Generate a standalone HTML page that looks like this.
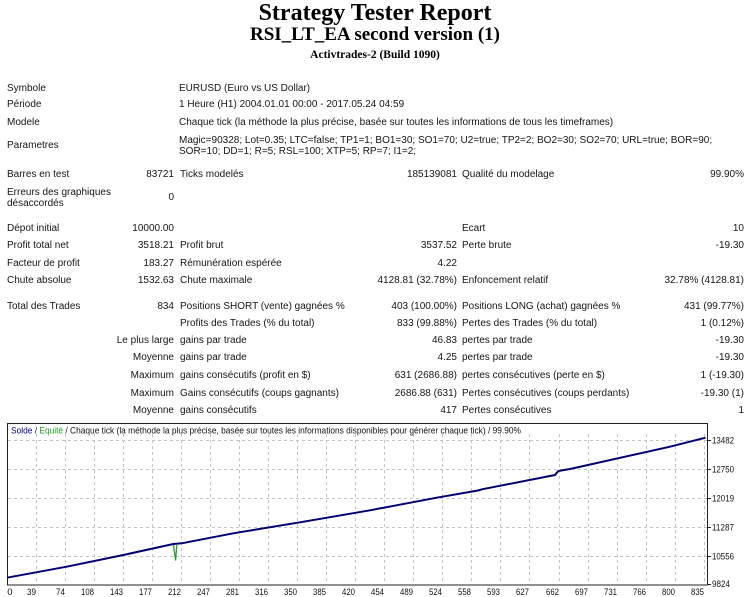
<!DOCTYPE html>
<html><head><meta charset="utf-8">
<style>
html,body{margin:0;padding:0;background:#fff;}
body{width:750px;height:597px;position:relative;overflow:hidden;font-family:"Liberation Sans",Arial,sans-serif;color:#151515;}
.t{position:absolute;font-size:10px;line-height:12px;height:12px;white-space:nowrap;}
.r{text-align:right;}
.h{position:absolute;left:0;width:750px;text-align:center;font-family:"Liberation Serif","Times New Roman",serif;font-weight:bold;color:#000;white-space:nowrap;}
</style></head><body>
<div class="h" style="top:-1px;font-size:24px;line-height:28px;">Strategy Tester Report</div>
<div class="h" style="top:24px;font-size:19px;line-height:22px;">RSI_LT_EA second version (1)</div>
<div class="h" style="top:48px;font-size:11.5px;line-height:14px;">Activtrades-2 (Build 1090)</div>

<div class="t" style="left:7px;top:83px">Symbole</div>
<div class="t" style="left:179px;top:83px">EURUSD (Euro vs US Dollar)</div>
<div class="t" style="left:7px;top:99px">Période</div>
<div class="t" style="left:179px;top:99px">1 Heure (H1) 2004.01.01 00:00 - 2017.05.24 04:59</div>
<div class="t" style="left:7px;top:117px">Modele</div>
<div class="t" style="left:179px;top:117px">Chaque tick (la méthode la plus précise, basée sur toutes les informations de tous les timeframes)</div>
<div class="t" style="left:7px;top:140px">Parametres</div>
<div class="t" style="left:179px;top:135px">Magic=90328; Lot=0.35; LTC=false; TP1=1; BO1=30; SO1=70; U2=true; TP2=2; BO2=30; SO2=70; URL=true; BOR=90;</div>
<div class="t" style="left:179px;top:146px">SOR=10; DD=1; R=5; RSL=100; XTP=5; RP=7; I1=2;</div>

<div class="t" style="left:7px;top:169px">Barres en test</div>
<div class="t r" style="right:576px;top:169px">83721</div>
<div class="t" style="left:180px;top:169px">Ticks modelés</div>
<div class="t r" style="right:293px;top:169px">185139081</div>
<div class="t" style="left:462px;top:169px">Qualité du modelage</div>
<div class="t r" style="right:6px;top:169px">99.90%</div>

<div class="t" style="left:7px;top:187px">Erreurs des graphiques</div>
<div class="t" style="left:7px;top:198px">désaccordés</div>
<div class="t r" style="right:576px;top:192px">0</div>

<div class="t" style="left:7px;top:223px">Dépot initial</div>
<div class="t r" style="right:576px;top:223px">10000.00</div>
<div class="t" style="left:462px;top:223px">Ecart</div>
<div class="t r" style="right:6px;top:223px">10</div>

<div class="t" style="left:7px;top:240px">Profit total net</div>
<div class="t r" style="right:576px;top:240px">3518.21</div>
<div class="t" style="left:180px;top:240px">Profit brut</div>
<div class="t r" style="right:293px;top:240px">3537.52</div>
<div class="t" style="left:462px;top:240px">Perte brute</div>
<div class="t r" style="right:6px;top:240px">-19.30</div>

<div class="t" style="left:7px;top:258px">Facteur de profit</div>
<div class="t r" style="right:576px;top:258px">183.27</div>
<div class="t" style="left:180px;top:258px">Rémunération espérée</div>
<div class="t r" style="right:293px;top:258px">4.22</div>

<div class="t" style="left:7px;top:275px">Chute absolue</div>
<div class="t r" style="right:576px;top:275px">1532.63</div>
<div class="t" style="left:180px;top:275px">Chute maximale</div>
<div class="t r" style="right:293px;top:275px">4128.81 (32.78%)</div>
<div class="t" style="left:462px;top:275px">Enfoncement relatif</div>
<div class="t r" style="right:6px;top:275px">32.78% (4128.81)</div>

<div class="t" style="left:7px;top:301px">Total des Trades</div>
<div class="t r" style="right:576px;top:301px">834</div>
<div class="t" style="left:180px;top:301px">Positions SHORT (vente) gagnées %</div>
<div class="t r" style="right:293px;top:301px">403 (100.00%)</div>
<div class="t" style="left:462px;top:301px">Positions LONG (achat) gagnées %</div>
<div class="t r" style="right:6px;top:301px">431 (99.77%)</div>

<div class="t" style="left:180px;top:318px">Profits des Trades (% du total)</div>
<div class="t r" style="right:293px;top:318px">833 (99.88%)</div>
<div class="t" style="left:462px;top:318px">Pertes des Trades (% du total)</div>
<div class="t r" style="right:6px;top:318px">1 (0.12%)</div>

<div class="t r" style="right:576px;top:335px">Le plus large</div>
<div class="t" style="left:180px;top:335px">gains par trade</div>
<div class="t r" style="right:293px;top:335px">46.83</div>
<div class="t" style="left:462px;top:335px">pertes par trade</div>
<div class="t r" style="right:6px;top:335px">-19.30</div>

<div class="t r" style="right:576px;top:352px">Moyenne</div>
<div class="t" style="left:180px;top:352px">gains par trade</div>
<div class="t r" style="right:293px;top:352px">4.25</div>
<div class="t" style="left:462px;top:352px">pertes par trade</div>
<div class="t r" style="right:6px;top:352px">-19.30</div>

<div class="t r" style="right:576px;top:370px">Maximum</div>
<div class="t" style="left:180px;top:370px">gains consécutifs (profit en $)</div>
<div class="t r" style="right:293px;top:370px">631 (2686.88)</div>
<div class="t" style="left:462px;top:370px">pertes consécutives (perte en $)</div>
<div class="t r" style="right:6px;top:370px">1 (-19.30)</div>

<div class="t r" style="right:576px;top:388px">Maximum</div>
<div class="t" style="left:180px;top:388px">Gains consécutifs (coups gagnants)</div>
<div class="t r" style="right:293px;top:388px">2686.88 (631)</div>
<div class="t" style="left:462px;top:388px">Pertes consécutives (coups perdants)</div>
<div class="t r" style="right:6px;top:388px">-19.30 (1)</div>

<div class="t r" style="right:576px;top:405px">Moyenne</div>
<div class="t" style="left:180px;top:405px">gains consécutifs</div>
<div class="t r" style="right:293px;top:405px">417</div>
<div class="t" style="left:462px;top:405px">Pertes consécutives</div>
<div class="t r" style="right:6px;top:405px">1</div>

<svg style="position:absolute;left:0;top:0" width="750" height="597" viewBox="0 0 750 597" xmlns="http://www.w3.org/2000/svg" font-family="Liberation Sans, Arial, sans-serif">
  <rect x="7.5" y="423.5" width="700" height="161.5" fill="#fff" stroke="#222" stroke-width="1"/>
  <g stroke="#c4c4c4" stroke-width="1" stroke-dasharray="3,3" fill="none">
    <line x1="8" y1="440.5" x2="707" y2="440.5"/>
    <line x1="8" y1="469.5" x2="707" y2="469.5"/>
    <line x1="8" y1="498.5" x2="707" y2="498.5"/>
    <line x1="8" y1="527.5" x2="707" y2="527.5"/>
    <line x1="8" y1="556.5" x2="707" y2="556.5"/>
    <line x1="36.5" y1="434" x2="36.5" y2="584"/>
    <line x1="65.5" y1="434" x2="65.5" y2="584"/>
    <line x1="94.5" y1="434" x2="94.5" y2="584"/>
    <line x1="123.5" y1="434" x2="123.5" y2="584"/>
    <line x1="152.5" y1="434" x2="152.5" y2="584"/>
    <line x1="181.5" y1="434" x2="181.5" y2="584"/>
    <line x1="210.5" y1="434" x2="210.5" y2="584"/>
    <line x1="239.5" y1="434" x2="239.5" y2="584"/>
    <line x1="268.5" y1="434" x2="268.5" y2="584"/>
    <line x1="297.5" y1="434" x2="297.5" y2="584"/>
    <line x1="326.5" y1="434" x2="326.5" y2="584"/>
    <line x1="355.5" y1="434" x2="355.5" y2="584"/>
    <line x1="384.5" y1="434" x2="384.5" y2="584"/>
    <line x1="413.5" y1="434" x2="413.5" y2="584"/>
    <line x1="442.5" y1="434" x2="442.5" y2="584"/>
    <line x1="471.5" y1="434" x2="471.5" y2="584"/>
    <line x1="500.5" y1="434" x2="500.5" y2="584"/>
    <line x1="529.5" y1="434" x2="529.5" y2="584"/>
    <line x1="559.5" y1="434" x2="559.5" y2="584"/>
    <line x1="588.5" y1="434" x2="588.5" y2="584"/>
    <line x1="617.5" y1="434" x2="617.5" y2="584"/>
    <line x1="646.5" y1="434" x2="646.5" y2="584"/>
    <line x1="675.5" y1="434" x2="675.5" y2="584"/>
    <line x1="704.5" y1="434" x2="704.5" y2="584"/>
  </g>
  <g stroke="#222" stroke-width="1">
    <line x1="708" y1="440.5" x2="711" y2="440.5"/>
    <line x1="708" y1="469.5" x2="711" y2="469.5"/>
    <line x1="708" y1="498.5" x2="711" y2="498.5"/>
    <line x1="708" y1="527.5" x2="711" y2="527.5"/>
    <line x1="708" y1="556.5" x2="711" y2="556.5"/>
    <line x1="708" y1="584.5" x2="711" y2="584.5"/>
  </g>
  <text x="11" y="433.5" font-size="9.5" textLength="510" lengthAdjust="spacingAndGlyphs" fill="#111"><tspan fill="#00007a">Solde</tspan> / <tspan fill="#1f9a1f">Equité</tspan> / Chaque tick (la méthode la plus précise, basée sur toutes les informations disponibles pour générer chaque tick) / 99.90%</text>
  <polyline fill="none" stroke="#2e9a2e" stroke-width="1.3" points="173.3,544 175.6,560.5 176.8,545"/>
  <polyline fill="none" stroke="#00006e" stroke-width="2" stroke-linejoin="round" points="7,577.7 66.7,566.7 123.3,555 173.3,544 181.7,543.3 233.3,533.3 300,522.3 370,510.3 436.7,497.7 478,490.5 482,489.3 555,475 558.3,471 570,469 670,446.7 705.5,437.7"/>
  <g font-size="9.5" fill="#111">
    <text x="712" y="443.5" textLength="22" lengthAdjust="spacingAndGlyphs">13482</text>
    <text x="712" y="472.5" textLength="22" lengthAdjust="spacingAndGlyphs">12750</text>
    <text x="712" y="501.5" textLength="22" lengthAdjust="spacingAndGlyphs">12019</text>
    <text x="712" y="530.5" textLength="22" lengthAdjust="spacingAndGlyphs">11287</text>
    <text x="712" y="559.5" textLength="22" lengthAdjust="spacingAndGlyphs">10556</text>
    <text x="712" y="587" textLength="18" lengthAdjust="spacingAndGlyphs">9824</text>
  </g>
  <g font-size="9.5" fill="#111" text-anchor="end">
    <text x="12.5" y="595">0</text>
    <text x="36" y="595" textLength="9" lengthAdjust="spacingAndGlyphs">39</text>
    <text x="65" y="595" textLength="9" lengthAdjust="spacingAndGlyphs">74</text>
    <text x="94" y="595" textLength="13" lengthAdjust="spacingAndGlyphs">108</text>
    <text x="123" y="595" textLength="13" lengthAdjust="spacingAndGlyphs">143</text>
    <text x="152" y="595" textLength="13" lengthAdjust="spacingAndGlyphs">177</text>
    <text x="181" y="595" textLength="13" lengthAdjust="spacingAndGlyphs">212</text>
    <text x="210" y="595" textLength="13" lengthAdjust="spacingAndGlyphs">247</text>
    <text x="239" y="595" textLength="13" lengthAdjust="spacingAndGlyphs">281</text>
    <text x="268" y="595" textLength="13" lengthAdjust="spacingAndGlyphs">316</text>
    <text x="297" y="595" textLength="13" lengthAdjust="spacingAndGlyphs">350</text>
    <text x="326" y="595" textLength="13" lengthAdjust="spacingAndGlyphs">385</text>
    <text x="355" y="595" textLength="13" lengthAdjust="spacingAndGlyphs">420</text>
    <text x="384" y="595" textLength="13" lengthAdjust="spacingAndGlyphs">454</text>
    <text x="413" y="595" textLength="13" lengthAdjust="spacingAndGlyphs">489</text>
    <text x="442" y="595" textLength="13" lengthAdjust="spacingAndGlyphs">524</text>
    <text x="471" y="595" textLength="13" lengthAdjust="spacingAndGlyphs">558</text>
    <text x="500" y="595" textLength="13" lengthAdjust="spacingAndGlyphs">593</text>
    <text x="529" y="595" textLength="13" lengthAdjust="spacingAndGlyphs">627</text>
    <text x="559" y="595" textLength="13" lengthAdjust="spacingAndGlyphs">662</text>
    <text x="588" y="595" textLength="13" lengthAdjust="spacingAndGlyphs">697</text>
    <text x="617" y="595" textLength="13" lengthAdjust="spacingAndGlyphs">731</text>
    <text x="646" y="595" textLength="13" lengthAdjust="spacingAndGlyphs">766</text>
    <text x="675" y="595" textLength="13" lengthAdjust="spacingAndGlyphs">800</text>
    <text x="704" y="595" textLength="13" lengthAdjust="spacingAndGlyphs">835</text>
  </g>
</svg>
</body></html>
